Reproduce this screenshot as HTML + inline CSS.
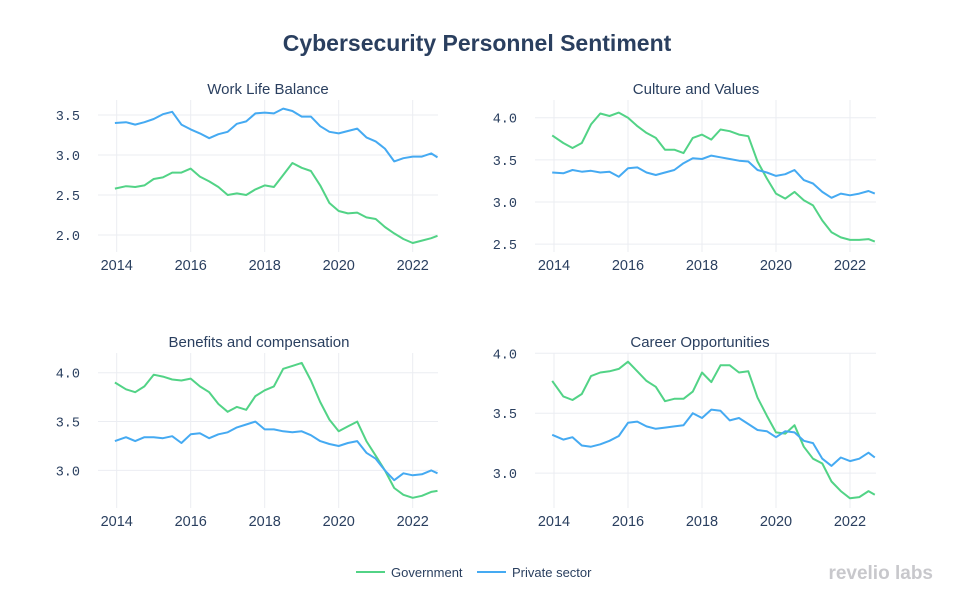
<!DOCTYPE html>
<html><head><meta charset="utf-8"><style>
body{margin:0;background:#fff;}
svg{display:block;font-family:"Liberation Sans",sans-serif;}
</style></head><body>
<svg id="chart" width="954" height="600" viewBox="0 0 954 600" xmlns="http://www.w3.org/2000/svg">
<text x="477" y="51" text-anchor="middle" font-size="23" font-weight="bold" fill="#2a3f5f">Cybersecurity Personnel Sentiment</text>
<g id="panels"></g>
<g>
<g><line x1="356" y1="572" x2="385" y2="572" stroke="#52d386" stroke-width="2"/><text x="391" y="577" font-size="13" fill="#2a3f5f">Government</text></g>
<g><line x1="477" y1="572" x2="506" y2="572" stroke="#45aaf2" stroke-width="2"/><text x="512" y="577" font-size="13" fill="#2a3f5f">Private sector</text></g>
</g>
<text x="933" y="579" text-anchor="end" font-size="19" font-weight="bold" fill="#c8c8cc">revelio labs</text>
</svg>
<script>
const dates=[2013.95,2014.25,2014.5,2014.75,2015,2015.25,2015.5,2015.75,2016,2016.25,2016.5,2016.75,2017,2017.25,2017.5,2017.75,2018,2018.25,2018.5,2018.75,2019,2019.25,2019.5,2019.75,2020,2020.25,2020.5,2020.75,2021,2021.25,2021.5,2021.75,2022,2022.25,2022.5,2022.67];
const xTicks=[2014,2016,2018,2020,2022];
const wlbGov=[2.58,2.61,2.60,2.62,2.70,2.72,2.78,2.78,2.83,2.73,2.67,2.60,2.50,2.52,2.50,2.57,2.62,2.60,2.75,2.90,2.84,2.80,2.62,2.40,2.30,2.27,2.28,2.22,2.20,2.10,2.02,1.95,1.90,1.93,1.96,1.99];
const wlbPriv=[3.40,3.41,3.38,3.41,3.45,3.51,3.54,3.38,3.32,3.27,3.21,3.26,3.29,3.39,3.42,3.52,3.53,3.52,3.58,3.55,3.48,3.48,3.36,3.29,3.27,3.30,3.33,3.22,3.17,3.08,2.92,2.96,2.98,2.98,3.02,2.97];
const cvGov=[3.79,3.70,3.64,3.70,3.92,4.05,4.02,4.06,4.00,3.90,3.82,3.76,3.62,3.62,3.58,3.76,3.80,3.74,3.86,3.84,3.80,3.78,3.48,3.28,3.10,3.04,3.12,3.02,2.96,2.78,2.64,2.58,2.55,2.55,2.56,2.53];
const cvPriv=[3.35,3.34,3.38,3.36,3.37,3.35,3.36,3.30,3.40,3.41,3.35,3.32,3.35,3.38,3.46,3.52,3.51,3.55,3.53,3.51,3.49,3.48,3.38,3.35,3.31,3.33,3.38,3.26,3.22,3.12,3.05,3.10,3.08,3.10,3.13,3.10];
const bcGov=[3.90,3.83,3.80,3.86,3.98,3.96,3.93,3.92,3.94,3.86,3.80,3.68,3.60,3.65,3.62,3.76,3.82,3.86,4.04,4.07,4.10,3.92,3.70,3.52,3.40,3.45,3.50,3.30,3.15,3.00,2.82,2.75,2.72,2.74,2.78,2.79];
const bcPriv=[3.30,3.34,3.30,3.34,3.34,3.33,3.35,3.28,3.37,3.38,3.33,3.37,3.39,3.44,3.47,3.50,3.42,3.42,3.40,3.39,3.40,3.36,3.30,3.27,3.25,3.28,3.30,3.18,3.12,3.00,2.90,2.97,2.95,2.96,3.00,2.97];
const coGov=[3.77,3.64,3.61,3.66,3.81,3.84,3.85,3.87,3.93,3.85,3.77,3.72,3.60,3.62,3.62,3.68,3.84,3.76,3.90,3.90,3.84,3.85,3.63,3.48,3.34,3.33,3.40,3.22,3.12,3.08,2.93,2.85,2.79,2.80,2.85,2.82];
const coPriv=[3.32,3.28,3.30,3.23,3.22,3.24,3.27,3.31,3.42,3.43,3.39,3.37,3.38,3.39,3.40,3.50,3.46,3.53,3.52,3.44,3.46,3.41,3.36,3.35,3.30,3.35,3.34,3.27,3.25,3.12,3.06,3.13,3.10,3.12,3.17,3.13];
const titles=["Work Life Balance","Culture and Values","Benefits and compensation","Career Opportunities"];
const yTicksWlb=[2.0,2.5,3.0,3.5];
const yTicksCv=[2.5,3.0,3.5,4.0];
const yTicksBc=[3.0,3.5,4.0];
const yTicksCo=[3.0,3.5,4.0];

const NS="http://www.w3.org/2000/svg";
const panelsG=document.getElementById('panels');
function mk(tag,attrs,parent){const e=document.createElementNS(NS,tag);for(const k in attrs)e.setAttribute(k,attrs[k]);parent.appendChild(e);return e;}
const panels=[
 {name:'work-life-balance',gov:wlbGov,priv:wlbPriv,ticks:yTicksWlb,title:titles[0],x0:98,x1:438,y0:100,y1:252,x2014:116.7,refV:3.5,refY:115,ppu:80,tx:268},
 {name:'culture-and-values',gov:cvGov,priv:cvPriv,ticks:yTicksCv,title:titles[1],x0:535,x1:876,y0:100,y1:252,x2014:554,refV:4.0,refY:117.7,ppu:84.3,tx:696},
 {name:'benefits-and-compensation',gov:bcGov,priv:bcPriv,ticks:yTicksBc,title:titles[2],x0:98,x1:438,y0:353,y1:508,x2014:116.7,refV:4.0,refY:372.7,ppu:97.7,tx:259},
 {name:'career-opportunities',gov:coGov,priv:coPriv,ticks:yTicksCo,title:titles[3],x0:535,x1:876,y0:353,y1:508,x2014:554,refV:4.0,refY:353.3,ppu:119.8,tx:700}
];
panels.forEach(p=>{
 const g=mk('g',{},panelsG);
 
 
 const X=d=>p.x2014+(d-2014)*37;
 const Y=v=>p.refY+(p.refV-v)*p.ppu;
 const t=mk('text',{x:p.tx,y:p.y0-6,'text-anchor':'middle','font-size':15,fill:'#2a3f5f'},g);
 t.textContent=p.title;
 
 
 p.ticks.forEach(v=>{
  const y=Y(v);
  const gl=mk('line',{x1:p.x0,x2:p.x1,y1:y,y2:y,stroke:'#ebedf2','stroke-width':1},g);
  
  
  const tl=mk('text',{x:p.x0-18,y:y+5,'text-anchor':'end','font-size':13.5,fill:'#2a3f5f','font-family':'"Liberation Mono",monospace'},g);
  tl.textContent=v.toFixed(1);
  
  
 });
 xTicks.forEach(d=>{
  const x=X(d);
  const gl=mk('line',{x1:x,x2:x,y1:p.y0,y2:p.y1,stroke:'#ebedf2','stroke-width':1},g);
  
  
  const tl=mk('text',{x:x,y:p.y1+18,'text-anchor':'middle','font-size':14.5,fill:'#2a3f5f'},g);
  tl.textContent=String(d);
  
  
 });
 [[p.gov,'#52d386','government-line'],[p.priv,'#45aaf2','private-sector-line']].forEach(([arr,c,n])=>{
  const pts=arr.map((v,i)=>X(dates[i]).toFixed(1)+','+Y(v).toFixed(1)).join(' ');
  const pl=mk('polyline',{points:pts,fill:'none',stroke:c,'stroke-width':2,'stroke-linejoin':'round'},g);
  
  
 });
});
</script>
</body></html>
